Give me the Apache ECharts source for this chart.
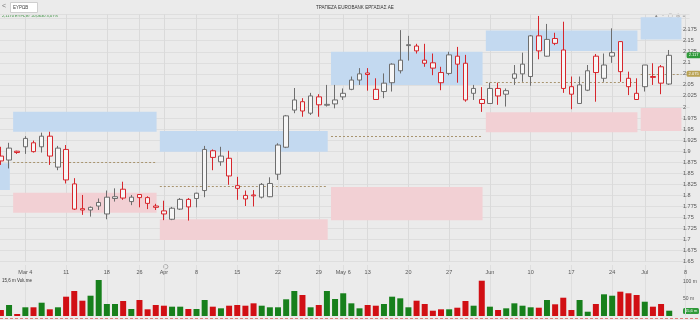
<!DOCTYPE html>
<html><head><meta charset="utf-8">
<script src="https://cdn.jsdelivr.net/npm/echarts@6/dist/echarts.min.js"></script>
<style>html,body{margin:0;padding:0;background:#ebebeb}#c{width:700px;height:320px}</style>
</head><body><div id="c"></div>
<script>
// ---- data ----
const opens  = [1.889,1.880,1.900,1.910,1.919,1.910,1.934,1.864,1.904,1.826,1.770,1.767,1.784,1.758,1.793,1.814,1.786,1.802,1.795,1.776,
                1.765,1.746,1.769,1.791,1.793,1.811,1.901,1.876,1.884,1.816,1.792,1.801,1.796,1.797,1.848,1.909,1.993,2.012,1.986,2.023,
                2.004,2.007,2.023,2.040,2.061,2.077,2.040,2.035,2.055,2.082,2.141,2.138,2.106,2.100,2.055,2.076,2.115,2.099,2.042,2.017,
                2.008,2.042,2.037,2.065,2.075,2.069,2.161,2.115,2.155,2.129,2.046,2.008,2.038,2.115,2.065,2.115,2.148,2.065,2.031,2.046,
                2.069,2.091,2.052];
const closes = [1.878,1.907,1.897,1.929,1.899,1.934,1.889,1.907,1.835,1.769,1.767,1.773,1.776,1.796,1.797,1.794,1.796,1.795,1.782,1.773,
                1.758,1.771,1.791,1.774,1.805,1.904,1.886,1.889,1.844,1.822,1.800,1.799,1.825,1.827,1.914,1.980,2.016,1.991,2.025,2.005,
                2.006,2.016,2.031,2.061,2.075,2.0735,2.017,2.054,2.097,2.106,2.139,2.127,2.099,2.088,2.078,2.118,2.097,2.016,2.031,2.008,
                2.042,2.025,2.029,2.075,2.097,2.161,2.127,2.153,2.144,2.042,2.029,2.050,2.082,2.078,2.095,2.123,2.080,2.046,2.017,2.095,
                2.067,2.054,2.117];
const lows   = [1.869,1.861,1.894,1.894,1.897,1.897,1.869,1.857,1.827,1.767,1.756,1.752,1.767,1.746,1.786,1.790,1.778,1.773,1.769,1.767,
                1.744,1.744,1.767,1.743,1.773,1.796,1.857,1.867,1.824,1.790,1.776,1.775,1.793,1.796,1.835,1.907,1.986,1.978,1.982,1.978,
                2.001,1.997,2.016,2.038,2.050,2.037,2.016,2.020,2.035,2.076,2.105,2.121,2.091,2.072,2.038,2.072,2.055,2.012,2.016,1.989,
                2.007,2.005,2.001,2.050,2.057,2.048,2.108,2.114,2.140,2.032,1.995,2.007,2.036,2.012,2.057,2.100,2.057,2.027,2.016,2.035,
                2.050,2.029,2.050];
const highs  = [1.910,1.919,1.901,1.934,1.924,1.942,1.944,1.912,1.914,1.839,1.801,1.775,1.793,1.811,1.816,1.831,1.801,1.803,1.798,1.781,
                1.788,1.774,1.794,1.794,1.806,1.912,1.904,1.910,1.901,1.842,1.811,1.812,1.828,1.841,1.918,1.982,2.043,2.020,2.032,2.029,
                2.050,2.050,2.042,2.069,2.088,2.088,2.065,2.076,2.099,2.174,2.161,2.143,2.143,2.121,2.091,2.125,2.136,2.118,2.050,2.045,
                2.055,2.055,2.042,2.095,2.123,2.163,2.206,2.188,2.168,2.193,2.069,2.069,2.095,2.120,2.121,2.178,2.149,2.080,2.065,2.095,
                2.099,2.095,2.129];
// volume in millions
const volumes = [17.6,32.4,5.9,25.6,25.6,39.1,19.7,25.6,56.8,73.5,45,59.7,105.9,35.3,35.3,44.1,20.6,47,19.7,32.4,
                 30.3,27.4,27.4,20.6,20.6,47,27.4,22.6,30.3,32.4,30.3,37.3,30.3,25.6,25.6,49.1,73.5,61.8,25.6,32.4,
                 73.5,50,66.8,37.3,22.6,32.4,30.3,35.3,56.8,52,25.6,45,35.3,15.6,19.7,19.7,24.4,44.1,30.3,103.8,
                 27.4,17.6,22.6,37.3,30.3,25.6,24.4,47,34.4,53.8,17.6,47,12.6,35.3,63.8,59.7,71.5,66.8,61.8,42,
                 27.4,35.3,15.6];
// date ticks on the time axis (slot index -> label)
const tickIndex = [3,8,13,17,20,24,29,34,39,42,45,50,55,60,65,70,75,79,84];
const tickText  = ['Mar 4','11','18','26','Apr','8','15','22','29','May 6','13','20','27','Jun','10','17','24','Jul','8'];
const slotCount = 85;
// monthly pivot zones (first / last slot of each month)
const zoneFirst = [-10, 2, 20, 41, 60, 79];
const zoneLast  = [1, 19, 40, 59, 78, 83.4];
const blueHigh  = [1.873, 1.989, 1.946, 2.125, 2.173, 2.203];
const blueLow   = [1.812, 1.944, 1.899, 2.050, 2.127, 2.153];
const pinkHigh  = [null, 1.806, 1.746, 1.819, 1.988, 1.998];
const pinkLow   = [null, 1.761, 1.699, 1.744, 1.943, 1.946];
const pivot     = [null, 1.876, 1.821, 1.934, 2.057, 2.075];
const priceTicks = {min: 1.65, max: 2.21, step: 0.025};

// ---- styles ----
const RED = '#d7262c', DARK = '#4a4a4a', GRAYB = '#6e6e6e', HOLLOW = '#f6f6f6';
const VGREEN = '#17801c', VRED = '#d10f14';
const BLUE = '#c3d9f0', PINK = '#f2d0d4';
const FONT = 'Liberation Sans, Arial, sans-serif';

const slots = [];
for (let i = 0; i < slotCount; i++) slots.push(String(i));
const tickMap = {};
tickIndex.forEach((ix, k) => tickMap[ix] = tickText[k]);
const isTick = (i) => tickMap[i] !== undefined;

const candleData = opens.map((o, i) => {
  const c = closes[i];
  const up = i > 0 && c >= closes[i - 1];
  const col = up ? DARK : RED;
  return {value: [o, c, lows[i], highs[i]],
    itemStyle: {color: HOLLOW, borderColor: up ? GRAYB : RED, color0: col, borderColor0: col}};
});
const volData = volumes.map((v, i) => ({value: v,
  itemStyle: {color: (i > 0 && closes[i] >= closes[i - 1]) ? VGREEN : VRED}}));

const zoneData = [];
zoneFirst.forEach((f, k) => {
  const a = f - 0.5, b = zoneLast[k] + 0.1;
  zoneData.push([a, b, blueLow[k], blueHigh[k], 0]);
  if (pinkLow[k] !== null) zoneData.push([a, b, pinkLow[k], pinkHigh[k], 1]);
  if (pivot[k] !== null) zoneData.push([a, b, pivot[k], pivot[k], 2]);
});

const lastClose = closes[closes.length - 1];
const lastVol = volumes[volumes.length - 1];
const tagData = [[slotCount - 0.5, lastClose, lastClose.toFixed(3), '#2f9a3a'],
                 [slotCount - 0.5, pivot[pivot.length - 1], pivot[pivot.length - 1].toFixed(3), '#b9a253']];

function renderZone(params, api) {
  const kind = api.value(4);
  const p0 = api.coord([api.value(0), api.value(3)]);
  const p1 = api.coord([api.value(1), api.value(2)]);
  if (kind === 2) {
    return {type: 'line', shape: {x1: p0[0], y1: Math.round(p0[1]) + 0.5, x2: p1[0], y2: Math.round(p0[1]) + 0.5},
      style: {stroke: '#a8946f', lineWidth: 1, lineDash: [2, 2]}};
  }
  return {type: 'rect', shape: {x: p0[0], y: p0[1], width: p1[0] - p0[0], height: p1[1] - p0[1]},
    style: {fill: kind === 0 ? BLUE : PINK}};
}
function renderTag(params, api) {
  const p = api.coord([api.value(0), api.value(1)]);
  const txt = tagData[params.dataIndex][2], col = tagData[params.dataIndex][3];
  return {type: 'group', children: [
    {type: 'rect', shape: {x: p[0] - 3, y: p[1] - 3, width: 14, height: 6, r: 1.5}, style: {fill: col}},
    {type: 'text', style: {x: p[0] + 4, y: p[1], text: txt, fill: '#fff', font: '4px ' + FONT,
      align: 'center', verticalAlign: 'middle'}}
  ]};
}

const gridL = -3.175, gridR = 10.4;
const option = {
  backgroundColor: '#ebebeb',
  animation: false,
  textStyle: {fontFamily: FONT},
  grid: [
    {left: gridL, right: gridR, top: 14.2, bottom: 58.3, outerBoundsMode: 'none', containLabel: false},
    {left: gridL, right: gridR, top: 265, bottom: 4, outerBoundsMode: 'none', containLabel: false}
  ],
  xAxis: [
    {type: 'category', gridIndex: 0, data: slots, boundaryGap: true,
      axisLine: {show: false}, axisTick: {show: false, alignWithLabel: true},
      axisLabel: {interval: (i) => isTick(i), formatter: (v, i) => tickMap[i] || '',
        fontSize: 5.5, color: '#555', margin: 8, fontFamily: FONT, hideOverlap: false},
      splitLine: {show: true, interval: (i) => isTick(i), alignWithLabel: true, lineStyle: {color: '#dadada', width: 1}}},
    {type: 'value', gridIndex: 0, min: -0.5, max: slotCount - 0.5, show: false},
    {type: 'category', gridIndex: 1, data: slots, boundaryGap: true,
      axisLine: {show: false}, axisTick: {show: false, alignWithLabel: true}, axisLabel: {show: false},
      splitLine: {show: true, interval: (i) => isTick(i), alignWithLabel: true, lineStyle: {color: '#dedede', width: 1}}},
    {type: 'value', gridIndex: 1, min: -0.5, max: slotCount - 0.5, show: false}
  ],
  yAxis: [
    {type: 'value', gridIndex: 0, position: 'right', offset: -8.6, min: priceTicks.min, max: priceTicks.max,
      interval: priceTicks.step, axisLine: {show: false}, axisTick: {show: false},
      axisLabel: {fontSize: 5.5, color: '#555', margin: 2, fontFamily: FONT,
        formatter: (v) => v > 2.19 ? '' : String(+v.toFixed(3))},
      splitLine: {show: true, lineStyle: {color: '#dedede', width: 1}}},
    {type: 'value', gridIndex: 1, position: 'right', offset: -8.6, min: 0, max: 150, interval: 50,
      axisLine: {show: false}, axisTick: {show: false},
      axisLabel: {fontSize: 5, color: '#555', margin: 2, fontFamily: FONT,
        formatter: (v) => (v === 50 || v === 100) ? v + ' m' : ''},
      splitLine: {show: false}}
  ],
  series: [
    {type: 'custom', xAxisIndex: 1, yAxisIndex: 0, renderItem: renderZone, data: zoneData, z: 1, silent: true},
    {type: 'candlestick', xAxisIndex: 0, yAxisIndex: 0, data: candleData, barWidth: 5, z: 3,
      itemStyle: {borderWidth: 1}},
    {type: 'custom', xAxisIndex: 1, yAxisIndex: 0, renderItem: renderTag, data: tagData.map(t => [t[0], t[1]]), z: 5, clip: false},
    {type: 'bar', xAxisIndex: 2, yAxisIndex: 1, data: volData, barWidth: 6}
  ],
  graphic: [
    {type: 'text', left: 2, top: 3, style: {text: '<', fill: '#777', font: '7px ' + FONT}},
    {type: 'rect', left: 10, top: 2, shape: {width: 27, height: 10}, style: {fill: '#ffffff', stroke: '#cfcfcf'}},
    {type: 'text', left: 13, top: 5, style: {text: 'ΕΥΡΩΒ', fill: '#444', font: '4.5px ' + FONT}},
    {type: 'text', left: 316, top: 5, style: {text: 'ΤΡΑΠΕΖΑ EUROBANK ΕΡΓΑΣΙΑΣ ΑΕ', fill: '#333', font: '4.6px ' + FONT}},
    {type: 'text', left: 2, top: 13.5, style: {text: '2,1170 ΕΥΡΩΒ: +0,0630 3,07%', fill: '#2f8a34', font: '4px ' + FONT}},
    {type: 'text', left: 655, top: 13, style: {text: '▴   ◦   ▢  ◎  ≡', fill: '#888', font: '5px ' + FONT}},
    {type: 'text', left: 2, top: 278, style: {text: lastVol.toString().replace('.', ',') + ' m Volume', fill: '#333', font: '4.5px ' + FONT}},
    {type: 'rect', left: 683, top: 308, shape: {width: 16, height: 6, r: 1.5}, style: {fill: '#2f9a3a'}},
    {type: 'text', left: 685, top: 309.3, style: {text: lastVol.toString().replace('.', ',') + ' m', fill: '#fff', font: '4px ' + FONT}},
    {type: 'circle', left: 161, top: 262, shape: {r: 2.2}, style: {fill: 'none', stroke: '#888', lineWidth: 0.6}},
    {type: 'line', shape: {x1: 0, y1: 318.5, x2: 700, y2: 318.5}, style: {stroke: '#e07a7a', lineDash: [3, 2], lineWidth: 1}}
  ]
};
const chart = echarts.init(document.getElementById('c'), null, {renderer: 'canvas'});
chart.setOption(option);
</script></body></html>
